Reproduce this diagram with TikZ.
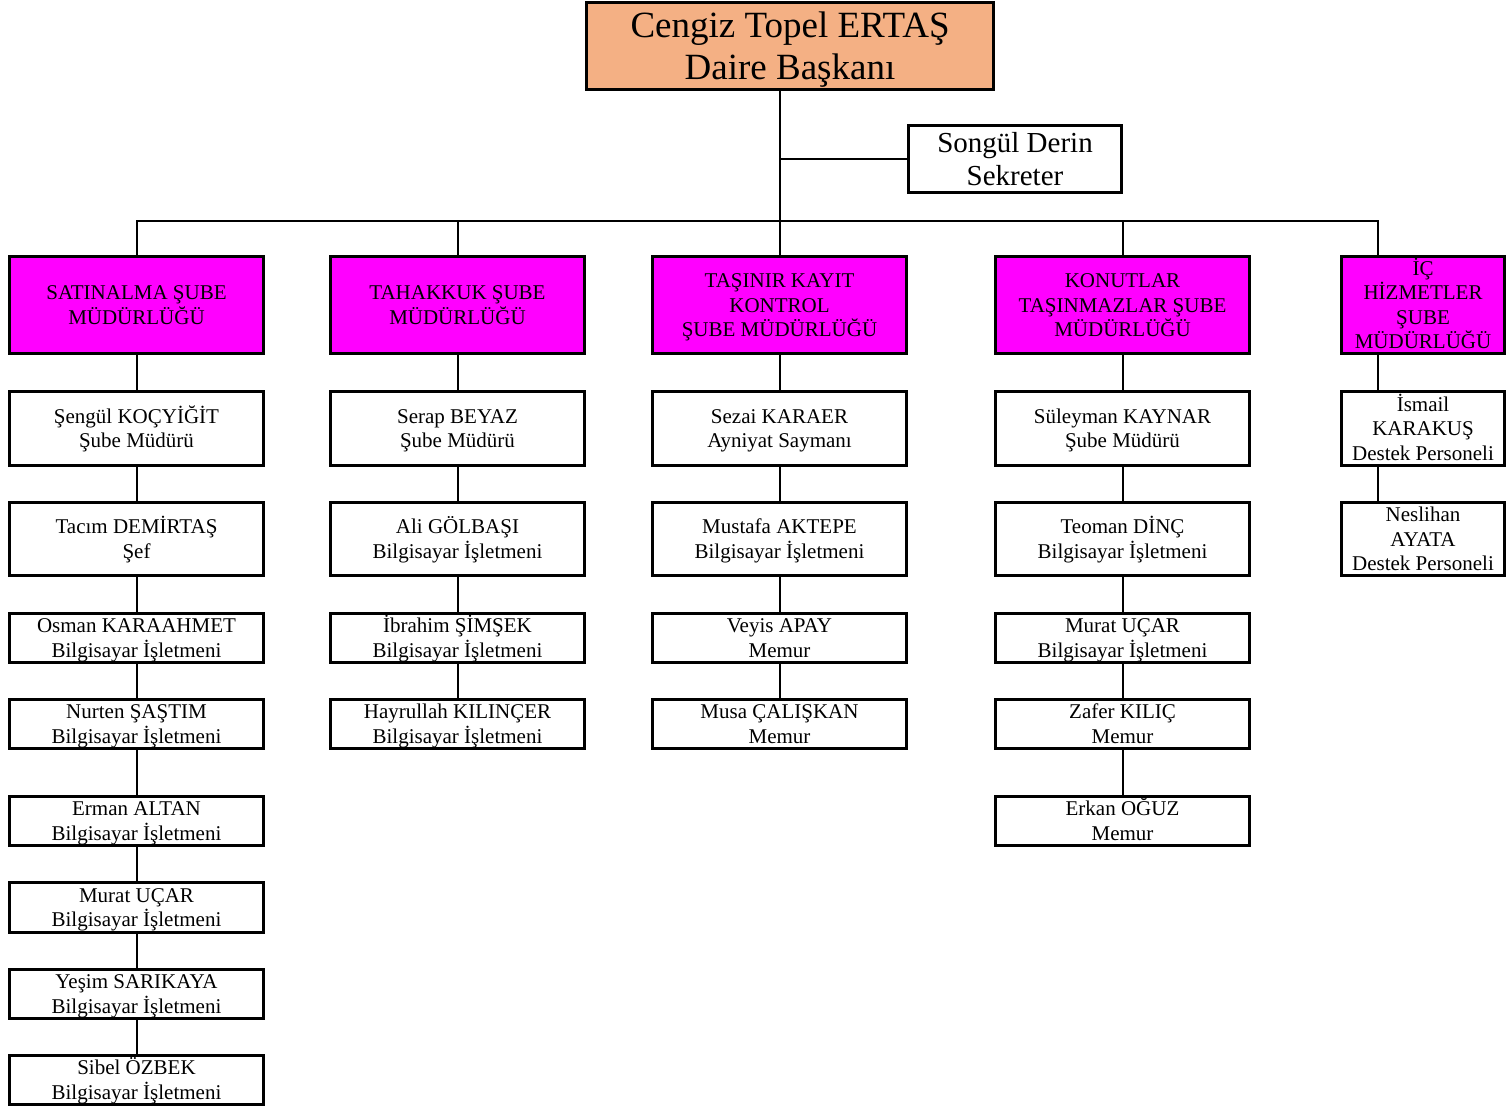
\documentclass[tikz,border=0pt]{standalone}
\usepackage{fontspec}
\setmainfont{Liberation Serif}
\definecolor{headorange}{HTML}{F4B084}
\definecolor{unitpink}{HTML}{FF00FF}
\tikzset{
  box/.style={draw, line width=3pt, inner sep=0pt, align=center,
    font=\fontsize{21}{24.5}\selectfont, text depth=4.5pt},
  lines2/.style={text height=43.2pt},
  lines3/.style={text height=67.7pt},
  lines4/.style={text height=92.2pt},
  head/.style={box, fill=headorange, minimum width=407pt, minimum height=87pt,
    font=\fontsize{37}{42}\selectfont, text height=75pt, text depth=8pt},
  secbox/.style={box, minimum width=213pt, minimum height=67pt,
    font=\fontsize{29}{33}\selectfont, text height=58.8pt, text depth=6.3pt},
  unit/.style={box, fill=unitpink, minimum height=97pt},
  person/.style={box, fill=white},
  link/.style={line width=2pt}
}

\begin{document}
\begin{tikzpicture}[x=1pt,y=-1pt]
\useasboundingbox (0,0) rectangle (1509,1109);

% staff column: prefix, x, box options, list of entries
\newcommand{\staffcol}[4]{%
  \foreach \txt [count=\i] in {#4}{%
    \pgfmathsetmacro{\yy}{{428.5,539,638,724,821,907.5,994,1080}[\i-1]}%
    \ifnum\i<3 \def\hh{73.5}\else\def\hh{49.5}\fi
    \node[person, #3, minimum height=\hh] (#1\i) at (#2,\yy) {\txt};
  }%
}

% top
\node[head] (head) at (790,46) {Cengiz Topel ERTAŞ\\Daire Başkanı};
\node[secbox] (sec) at (1015,159) {Songül Derin\\Sekreter};

% units
\node[unit, lines2, minimum width=254] (ua) at (136.5,305) {SATINALMA ŞUBE\\MÜDÜRLÜĞÜ};
\node[unit, lines2, minimum width=254] (ub) at (457.5,305) {TAHAKKUK ŞUBE\\MÜDÜRLÜĞÜ};
\node[unit, lines3, minimum width=254] (uc) at (779.5,305) {TAŞINIR KAYIT\\KONTROL\\ŞUBE MÜDÜRLÜĞÜ};
\node[unit, lines3, minimum width=254] (ud) at (1122.5,305) {KONUTLAR\\TAŞINMAZLAR ŞUBE\\MÜDÜRLÜĞÜ};
\node[unit, lines4, minimum width=163] (ue) at (1423,305) {İÇ\\HİZMETLER\\ŞUBE\\MÜDÜRLÜĞÜ};

% staff
\staffcol{a}{136.5}{lines2, minimum width=254}{{Şengül KOÇYİĞİT\\Şube Müdürü},{Tacım DEMİRTAŞ\\Şef},
  {Osman KARAAHMET\\Bilgisayar İşletmeni},{Nurten ŞAŞTIM\\Bilgisayar İşletmeni},
  {Erman ALTAN\\Bilgisayar İşletmeni},{Murat UÇAR\\Bilgisayar İşletmeni},
  {Yeşim SARIKAYA\\Bilgisayar İşletmeni},{Sibel ÖZBEK\\Bilgisayar İşletmeni}}
\staffcol{b}{457.5}{lines2, minimum width=254}{{Serap BEYAZ\\Şube Müdürü},{Ali GÖLBAŞI\\Bilgisayar İşletmeni},
  {İbrahim ŞİMŞEK\\Bilgisayar İşletmeni},{Hayrullah KILINÇER\\Bilgisayar İşletmeni}}
\staffcol{c}{779.5}{lines2, minimum width=254}{{Sezai KARAER\\Ayniyat Saymanı},{Mustafa AKTEPE\\Bilgisayar İşletmeni},
  {Veyis APAY\\Memur},{Musa ÇALIŞKAN\\Memur}}
\staffcol{d}{1122.5}{lines2, minimum width=254}{{Süleyman KAYNAR\\Şube Müdürü},{Teoman DİNÇ\\Bilgisayar İşletmeni},
  {Murat UÇAR\\Bilgisayar İşletmeni},{Zafer KILIÇ\\Memur},{Erkan OĞUZ\\Memur}}
\staffcol{e}{1423}{lines3, minimum width=163}{{İsmail\\KARAKUŞ\\Destek Personeli},{Neslihan\\AYATA\\Destek Personeli}}

% bus and drop point of last column
\coordinate (bus) at (779.5,221);
\coordinate (k5) at (1378,221);

% connectors
\draw[link] (head.south -| uc) -- (uc.north);
\draw[link] (sec.west) -- (sec.west -| uc);
\draw[link] (ua.north) -- (ua.north |- bus) -- (k5 |- bus) -- (ue.north -| k5);
\draw[link] (ub.north) -- (ub.north |- bus);
\draw[link] (ud.north) -- (ud.north |- bus);

\draw[link] (ua) -- (a1);
\draw[link] (ub) -- (b1);
\draw[link] (uc) -- (c1);
\draw[link] (ud) -- (d1);
\draw[link] (ue.south -| k5) -- (e1.north -| k5);
\draw[link] (e1.south -| k5) -- (e2.north -| k5);

\foreach \i [evaluate=\i as \j using int(\i+1)] in {1,...,7}
  \draw[link] (a\i) -- (a\j);
\foreach \i [evaluate=\i as \j using int(\i+1)] in {1,2,3}{
  \draw[link] (b\i) -- (b\j);
  \draw[link] (c\i) -- (c\j);
}
\foreach \i [evaluate=\i as \j using int(\i+1)] in {1,...,4}
  \draw[link] (d\i) -- (d\j);
\end{tikzpicture}
\end{document}
